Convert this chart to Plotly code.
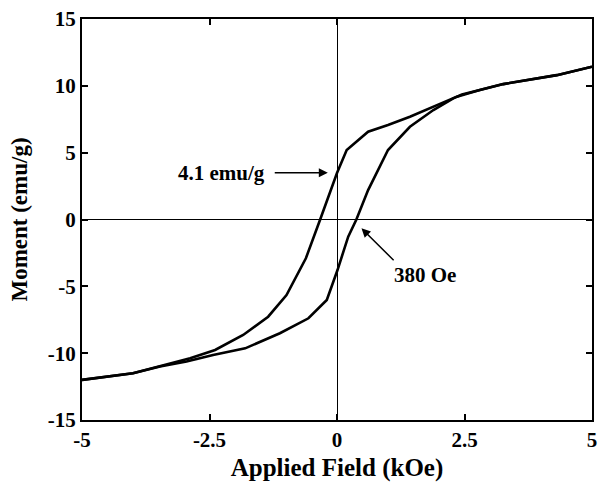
import plotly.graph_objects as go

# Descending-field branch (from +5 kOe to -5 kOe)
upper_field = [5.0, 4.31, 3.26, 2.8, 2.35, 1.89, 1.43, 1.0, 0.61, 0.19, 0.0, -0.33,
               -0.61, -0.99, -1.35, -1.84, -2.39, -2.88, -3.47, -4.0, -5.0]
upper_moment = [11.43, 10.8, 10.13, 9.69, 9.19, 8.44, 7.69, 7.07, 6.57, 5.2, 3.48, 0.0,
                -2.9, -5.65, -7.27, -8.64, -9.76, -10.38, -11.0, -11.5, -12.0]

# Ascending-field branch (from -5 kOe to +5 kOe)
lower_field = [-5.0, -4.0, -3.47, -2.95, -2.43, -1.8, -1.12, -0.56, -0.2, 0.01, 0.22,
               0.38, 0.61, 1.0, 1.43, 1.89, 2.28, 2.45, 2.8, 3.26, 4.31, 5.0]
lower_moment = [-12.0, -11.5, -11.0, -10.63, -10.13, -9.64, -8.51, -7.39, -6.02, -3.78,
                -1.28, 0.0, 2.2, 5.2, 6.94, 8.19, 9.06, 9.35, 9.69, 10.13, 10.8, 11.43]

x_ticks = [-5, -2.5, 0, 2.5, 5]
x_tick_labels = ["-5", "-2.5", "0", "2.5", "5"]
y_ticks = [-15, -10, -5, 0, 5, 10, 15]
y_tick_labels = ["-15", "-10", "-5", "0", "5", "10", "15"]

FONT = "Liberation Serif"

fig = go.Figure()
for xs, ys in [(upper_field, upper_moment), (lower_field, lower_moment)]:
    fig.add_trace(go.Scatter(x=xs, y=ys, mode="lines",
                             line=dict(color="black", width=2.6),
                             showlegend=False, hoverinfo="skip"))

axis_common = dict(showline=True, linecolor="black", linewidth=2, mirror="ticks",
                   ticks="inside", ticklen=6, tickwidth=1.5, tickcolor="black",
                   showgrid=False, zeroline=True, zerolinecolor="black",
                   zerolinewidth=1.2, automargin=False,
                   tickfont=dict(family=FONT, size=21, color="black", weight="bold"))

fig.update_xaxes(range=[-5, 5], tickvals=x_ticks, ticktext=x_tick_labels,
                 title=dict(text="<b>Applied Field (kOe)</b>",
                            font=dict(family=FONT, size=25, color="black"),
                            standoff=11),
                 **axis_common)
fig.update_yaxes(range=[-15, 15], tickvals=y_ticks, ticktext=y_tick_labels,
                 title=dict(text="<b>Moment (emu/g)</b>",
                            font=dict(family=FONT, size=23, color="black"),
                            standoff=14),
                 **axis_common)

# Annotations
fig.add_annotation(x=-0.18, y=3.5, ax=-1.25, ay=3.5, xref="x", yref="y",
                   axref="x", ayref="y", text="", showarrow=True,
                   arrowhead=2, arrowsize=1.2, arrowwidth=1.5, arrowcolor="black")
fig.add_annotation(x=-1.37, y=3.5, xref="x", yref="y", text="<b>4.1 emu/g</b>",
                   showarrow=False, xanchor="right", yanchor="middle",
                   font=dict(family=FONT, size=21, color="black"))
fig.add_annotation(x=0.48, y=-0.66, ax=1.14, ay=-3.16, xref="x", yref="y",
                   axref="x", ayref="y", text="", showarrow=True,
                   arrowhead=2, arrowsize=1.2, arrowwidth=1.5, arrowcolor="black")
fig.add_annotation(x=1.73, y=-4.15, xref="x", yref="y", text="<b>380 Oe</b>",
                   showarrow=False, xanchor="center", yanchor="middle",
                   font=dict(family=FONT, size=21, color="black"))

fig.update_layout(width=600, height=482, plot_bgcolor="white", paper_bgcolor="white",
                  margin=dict(l=82, r=8, t=19, b=62))

# Remove the browser's default 8px body margin so the figure sits at the window origin
fig.write_html("out.html", config={"displayModeBar": False},
               post_script="document.body.style.margin='0';document.body.style.overflow='hidden';")
